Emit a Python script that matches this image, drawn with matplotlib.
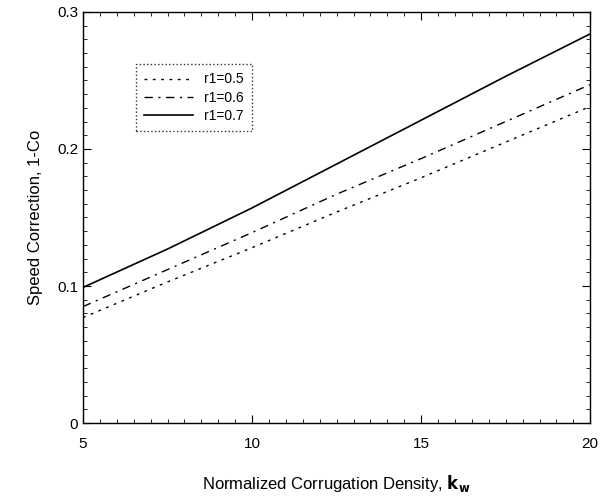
import numpy as np
import matplotlib
matplotlib.use("Agg")
import matplotlib.pyplot as plt
from matplotlib.ticker import MultipleLocator

plt.rcParams['font.family'] = ['Liberation Sans', 'DejaVu Sans']

# values
kw = [5, 7.5, 10, 12.5, 15, 17.5, 20]
r05 = [0.077, 0.103, 0.128, 0.154, 0.179, 0.205, 0.231]
r06 = [0.085, 0.112, 0.139, 0.167, 0.193, 0.220, 0.247]
r07 = [0.099, 0.127, 0.157, 0.189, 0.221, 0.253, 0.284]
labels = ['r1=0.5', 'r1=0.6', 'r1=0.7']

fig = plt.figure(figsize=(6.06, 4.96), dpi=100)
ax = fig.add_axes([0.137, 0.147, 0.837, 0.829])

ax.plot(kw, r05, color='black', lw=1.0, linestyle=(0, (2, 4)), label=labels[0])
ax.plot(kw, r06, color='black', lw=1.0, linestyle=(0, (6, 4, 1.5, 4)), label=labels[1])
ax.plot(kw, r07, color='black', lw=1.2, linestyle='-', label=labels[2])

ax.set_xlim(5, 20)
ax.set_ylim(0, 0.3)
ax.set_xticks([5, 10, 15, 20])
ax.set_yticks([0, 0.1, 0.2, 0.3])
ax.set_yticklabels(['0', '0.1', '0.2', '0.3'])
ax.xaxis.set_minor_locator(MultipleLocator(0.5))
ax.yaxis.set_minor_locator(MultipleLocator(0.01))
ax.tick_params(which='both', direction='in', top=True, right=True, labelsize=11)
ax.tick_params(which='major', length=6)
ax.tick_params(which='minor', length=3)
ax.tick_params(axis='x', pad=10)
for s in ax.spines.values():
    s.set_linewidth(1.0)

ax.set_xlabel('Normalized Corrugation Density, $\\mathbf{k_w}$', fontsize=12, labelpad=16)
ax.set_ylabel('Speed Correction, 1-Co', fontsize=12, labelpad=10)

leg = ax.legend(loc='upper left', bbox_to_anchor=(0.09, 0.89), fontsize=10,
                frameon=True, fancybox=False, edgecolor='black',
                handlelength=3.5, borderpad=0.6, labelspacing=0.3)
leg.get_frame().set_linestyle(':')
leg.get_frame().set_linewidth(1.0)

fig.savefig('out.png', dpi=100)
